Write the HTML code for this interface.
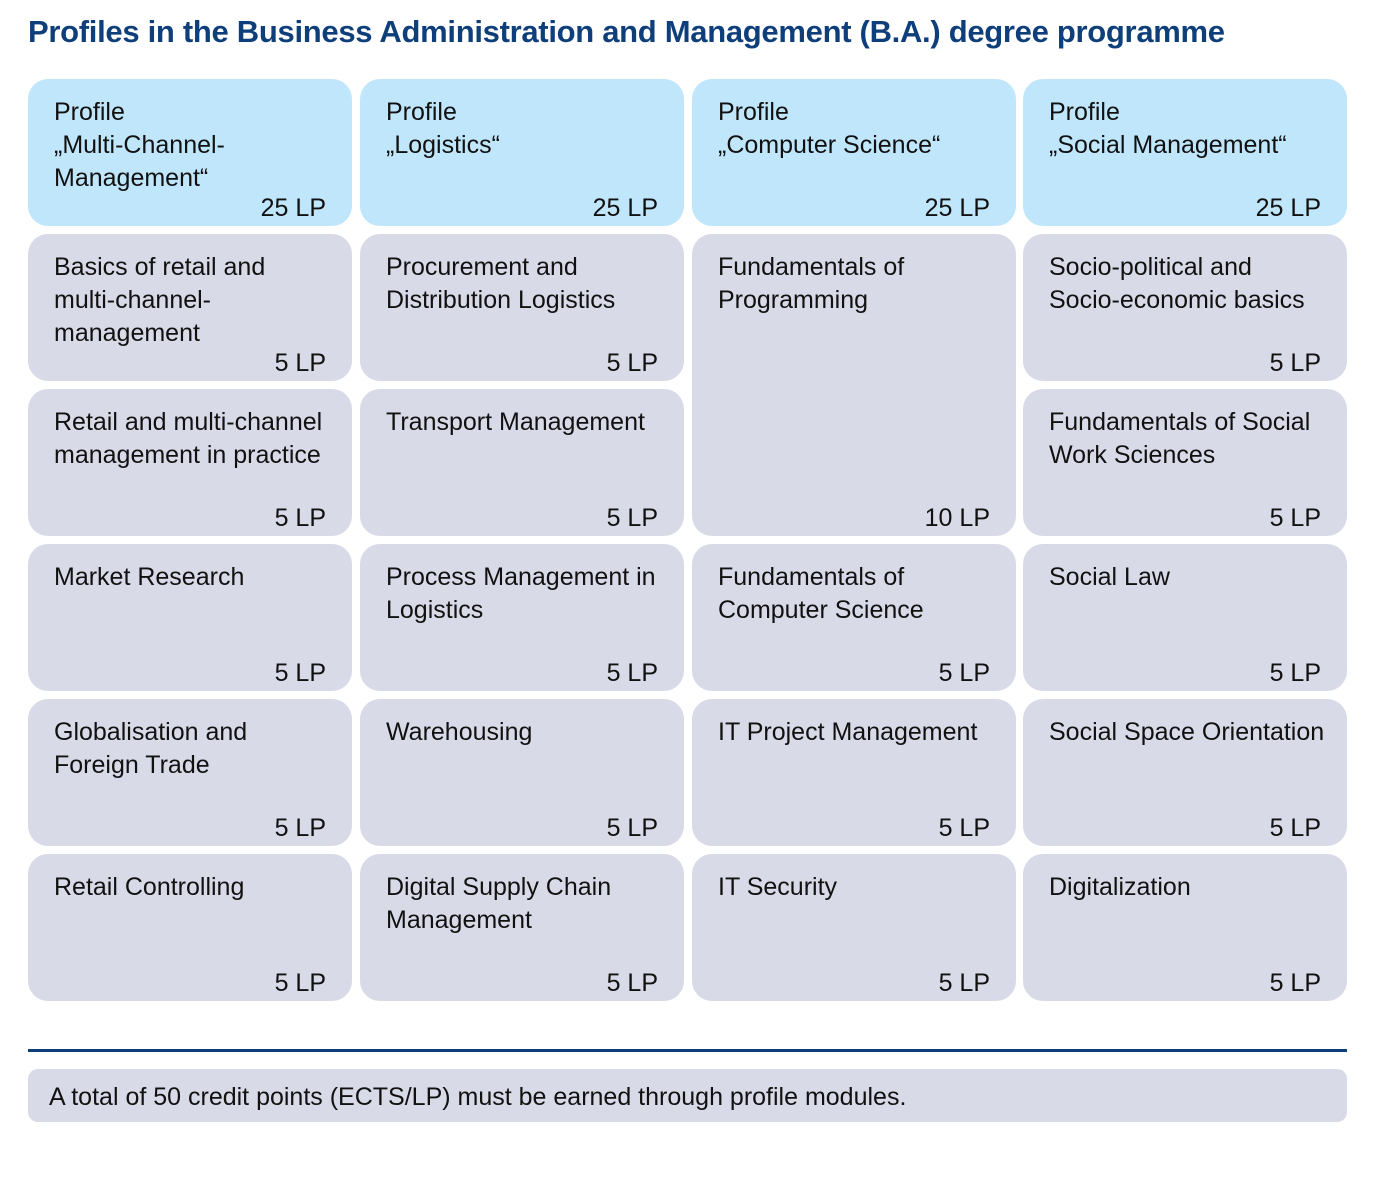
<!DOCTYPE html>
<html><head><meta charset="utf-8"><style>
body{margin:0;width:1375px;height:1200px;background:#fff;position:relative;font-family:"Liberation Sans",sans-serif;overflow:hidden}
.t{position:absolute;left:28px;top:14px;font-size:31px;font-weight:bold;color:#0e3f7a;letter-spacing:-0.3px}
.c{position:absolute;width:324px;border-radius:20px;background:#d9dae8;box-sizing:border-box;padding:17px 10px 0 26px;font-size:25px;line-height:33px;color:#111}
.c.h{background:#c0e6fb}
.lp{position:absolute;right:26px;bottom:1px;line-height:33px}
.line{position:absolute;left:28px;top:1049px;width:1319px;height:3px;background:#0e3f7a}
.f{position:absolute;left:28px;top:1069px;width:1319px;height:53px;background:#d9dae8;border-radius:10px;box-sizing:border-box;padding:14px 21px;font-size:25px;line-height:28px;color:#111}
</style></head><body>
<div class="t">Profiles in the Business Administration and Management (B.A.) degree programme</div>
<div id="grid"></div>
<div class="line"></div>
<div class="f">A total of 50 credit points (ECTS/LP) must be earned through profile modules.</div>
<script>
const colX=[28,360,692,1023];
const rowY=[79,234,389,544,699,854];
const rowH=147, rowStep=155;
const cells=[
[0,0,1,"Profile<br>„Multi-Channel-<br>Management“","25 LP",1],
[1,0,1,"Profile<br>„Logistics“","25 LP",1],
[2,0,1,"Profile<br>„Computer Science“","25 LP",1],
[3,0,1,"Profile<br>„Social Management“","25 LP",1],
[0,1,1,"Basics of retail and<br>multi-channel-<br>management","5 LP",0],
[1,1,1,"Procurement and<br>Distribution Logistics","5 LP",0],
[2,1,2,"Fundamentals of<br>Programming","10 LP",0],
[3,1,1,"Socio-political and<br>Socio-economic basics","5 LP",0],
[0,2,1,"Retail and multi-channel<br>management in practice","5 LP",0],
[1,2,1,"Transport Management","5 LP",0],
[3,2,1,"Fundamentals of Social<br>Work Sciences","5 LP",0],
[0,3,1,"Market Research","5 LP",0],
[1,3,1,"Process Management in<br>Logistics","5 LP",0],
[2,3,1,"Fundamentals of<br>Computer Science","5 LP",0],
[3,3,1,"Social Law","5 LP",0],
[0,4,1,"Globalisation and<br>Foreign Trade","5 LP",0],
[1,4,1,"Warehousing","5 LP",0],
[2,4,1,"IT Project Management","5 LP",0],
[3,4,1,"Social Space Orientation","5 LP",0],
[0,5,1,"Retail Controlling","5 LP",0],
[1,5,1,"Digital Supply Chain<br>Management","5 LP",0],
[2,5,1,"IT Security","5 LP",0],
[3,5,1,"Digitalization","5 LP",0]
];
const g=document.getElementById('grid');
cells.forEach(c=>{
 const d=document.createElement('div');
 d.className='c'+(c[5]?' h':'');
 d.style.left=colX[c[0]]+'px';
 d.style.top=rowY[c[1]]+'px';
 d.style.height=(rowH+(c[2]-1)*rowStep)+'px';
 d.innerHTML=c[3]+'<span class="lp">'+c[4]+'</span>';
 
 
 g.appendChild(d);
});
</script>
</body></html>
